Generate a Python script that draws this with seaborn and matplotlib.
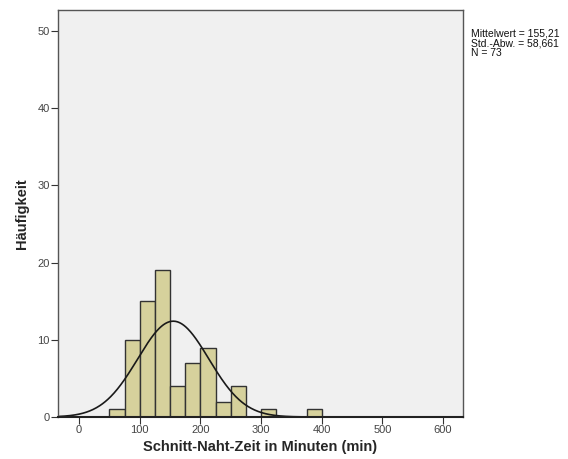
import numpy as np
import pandas as pd
import matplotlib
matplotlib.use("Agg")
import matplotlib.pyplot as plt
import seaborn as sns

bin_edges = [50, 75, 100, 125, 150, 175, 200, 225, 250, 275, 300, 325, 350, 375, 400]
counts = [1, 10, 15, 19, 4, 7, 9, 2, 4, 0, 1, 0, 0, 1]
mean_val = 155.21
std_val = 58.661
n_val = 73
x_ticks = [0, 100, 200, 300, 400, 500, 600]
y_ticks = [0, 10, 20, 30, 40, 50]

sns.set_theme(style="white")
plt.rcParams['font.family'] = ['Liberation Sans', 'DejaVu Sans']

centers = [(a + b) / 2 for a, b in zip(bin_edges[:-1], bin_edges[1:])]
df = pd.DataFrame({"x": centers, "w": counts})

fig = plt.figure(figsize=(5.68, 4.59), dpi=100)
ax = fig.add_axes([0.102, 0.0915, 0.713, 0.8865])
ax.set_facecolor("#f0f0f0")

sns.histplot(data=df, x="x", weights="w", bins=bin_edges, ax=ax,
             color="#d6d19c", alpha=1, edgecolor="#333333", linewidth=1.0)

xmin, xmax = -35, 633
xs = np.linspace(xmin, xmax, 600)
binw = 25
ys = n_val * binw / (std_val * np.sqrt(2 * np.pi)) * np.exp(-0.5 * ((xs - mean_val) / std_val) ** 2)
sns.lineplot(x=xs, y=ys, ax=ax, color="#1a1a1a", linewidth=1.2)

ax.set_xlim(xmin, xmax)
ax.set_ylim(0, 52.7)
ax.set_xticks(x_ticks)
ax.set_yticks(y_ticks)
ax.tick_params(axis="both", direction="out", length=5, width=0.8, color="#333333",
               labelsize=8, labelcolor="#444444", pad=1)
ax.tick_params(bottom=True, left=True)
for s in ax.spines.values():
    s.set_color("#555555")
    s.set_linewidth(1.0)
ax.spines["bottom"].set_color("#222222")
ax.spines["bottom"].set_linewidth(1.5)

ax.set_xlabel("Schnitt-Naht-Zeit in Minuten (min)", fontsize=10.5, fontweight="bold", labelpad=3)
ax.set_ylabel("Häufigkeit", fontsize=10.5, fontweight="bold", labelpad=6)

fig.text(0.829, 0.937, "Mittelwert = 155,21\nStd.-Abw. = 58,661\nN = 73",
         fontsize=7.5, va="top", ha="left", linespacing=0.95, color="#111111")

fig.savefig("out.png", dpi=100)
